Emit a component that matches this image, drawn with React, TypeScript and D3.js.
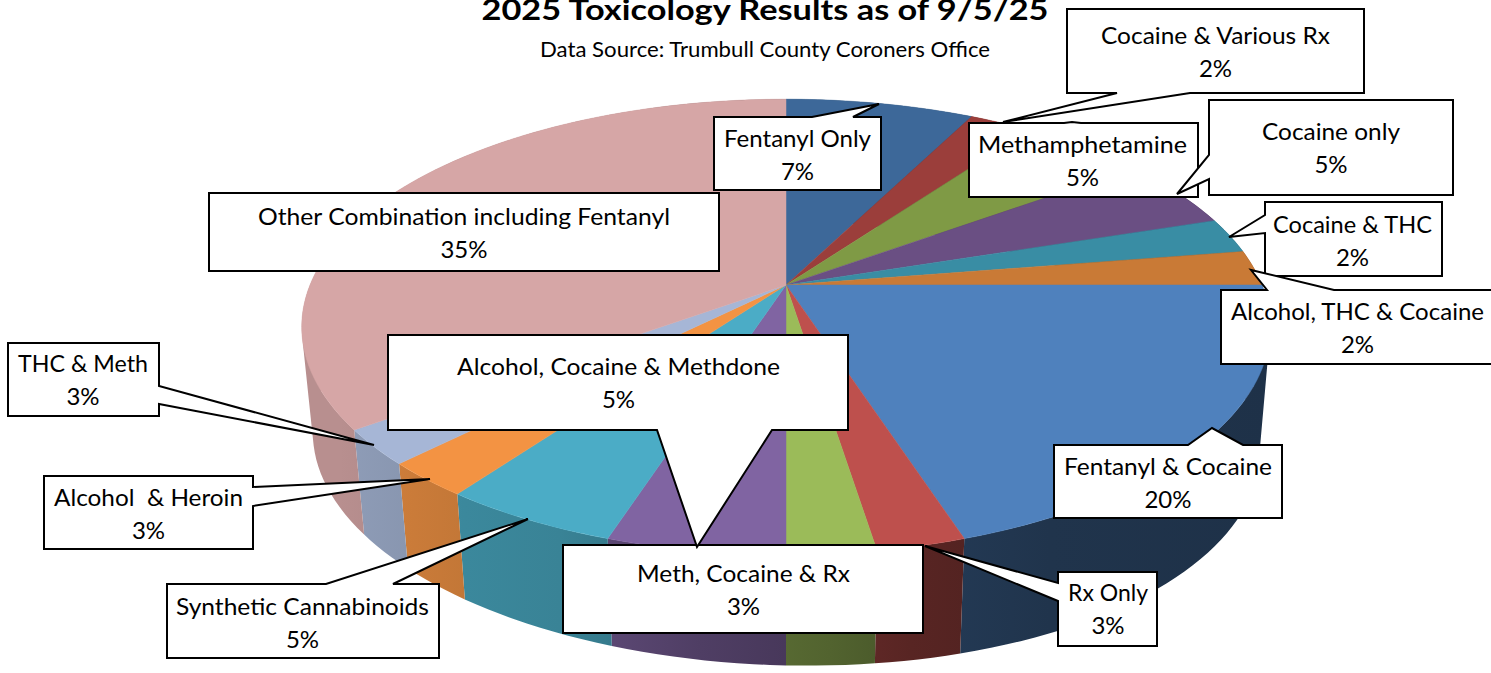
import React from "react";
import * as d3 from "d3";

// ---- data ----
const categories = [
  "Fentanyl Only", "Cocaine & Various Rx", "Methamphetamine", "Cocaine only", "Cocaine & THC",
  "Alcohol, THC & Cocaine", "Fentanyl & Cocaine", "Rx Only", "Meth, Cocaine & Rx",
  "Alcohol, Cocaine & Methdone", "Synthetic Cannabinoids", "Alcohol  & Heroin", "THC & Meth",
  "Other Combination including Fentanyl",
];
const caseCounts = [3, 1, 2, 2, 1, 1, 8, 1, 1, 2, 2, 1, 1, 14];
const percentLabels = ["7%", "2%", "5%", "5%", "2%", "2%", "20%", "3%", "3%", "5%", "5%", "3%", "3%", "35%"];
const topColors = [
  "#3D6899", "#9B3E3B", "#7F9A45", "#6A4F83", "#398DA4", "#C97A36",
  "#4F81BD", "#BE504D", "#9BBB59", "#8064A2", "#4BACC6", "#F39343", "#A6B6D6", "#D6A6A6",
];
const sideBaseColors = [
  "#4F81BD", "#C0504D", "#9BBB59", "#8064A2", "#4BACC6", "#F79646",
  "#4F81BD", "#C0504D", "#9BBB59", "#8064A2", "#4BACC6", "#F79646", "#A6B6D6", "#D6A6A6",
];
const title = "2025 Toxicology Results as of 9/5/25";
const subtitle = "Data Source: Trumbull County Coroners Office";

// ---- layout of callouts (not data) ----
type Pt = [number, number];
type Box = { x0: number; y0: number; x1: number; y1: number; edge: string; a?: number; tip?: Pt; b?: number; tx0: number; tx1: number; y: number };
const boxes: Box[] = [
  { x0: 714, y0: 117, x1: 881, y1: 190, edge: "top", a: 812, tip: [879, 104], b: 853, tx0: 724, tx1: 871, y: 147 },
  { x0: 1067, y0: 9, x1: 1364, y1: 93, edge: "bottom", a: 1190, tip: [1003, 122], b: 1117, tx0: 1101, tx1: 1330, y: 44 },
  { x0: 969, y0: 123, x1: 1198, y1: 197, edge: "top", a: 1064, tip: [1072, 122], b: 1081, tx0: 978, tx1: 1187, y: 153 },
  { x0: 1209, y0: 100, x1: 1453, y1: 195, edge: "left", a: 155, tip: [1177, 194], b: 179, tx0: 1262, tx1: 1400, y: 140 },
  { x0: 1265, y0: 202, x1: 1442, y1: 276, edge: "left", a: 215, tip: [1229, 237], b: 233, tx0: 1273, tx1: 1432, y: 233 },
  { x0: 1221, y0: 290, x1: 1495, y1: 364, edge: "top", a: 1267, tip: [1251, 270], b: 1334, tx0: 1231, tx1: 1484, y: 320 },
  { x0: 1054, y0: 445, x1: 1282, y1: 518, edge: "top", a: 1188, tip: [1212, 428], b: 1243, tx0: 1064, tx1: 1272, y: 475 },
  { x0: 1058, y0: 572, x1: 1157, y1: 646, edge: "left", a: 583, tip: [925, 546], b: 601, tx0: 1068, tx1: 1148, y: 601 },
  { x0: 563, y0: 545, x1: 923, y1: 633, edge: "none", tx0: 637, tx1: 850, y: 582 },
  { x0: 388, y0: 335, x1: 848, y1: 430, edge: "bottom", a: 772, tip: [697, 547], b: 657, tx0: 457, tx1: 780, y: 375 },
  { x0: 167, y0: 584, x1: 439, y1: 658, edge: "top", a: 326, tip: [528, 519], b: 393, tx0: 176, tx1: 429, y: 615 },
  { x0: 44, y0: 476, x1: 253, y1: 549, edge: "right", a: 487, tip: [430, 479], b: 506, tx0: 54, tx1: 243, y: 506 },
  { x0: 8, y0: 343, x1: 159, y1: 416, edge: "right", a: 386, tip: [374, 445], b: 404, tx0: 18, tx1: 148, y: 372 },
  { x0: 209, y0: 193, x1: 719, y1: 271, edge: "none", tx0: 258, tx1: 670, y: 225 },
];

// ---- 3D projection of the pie (a perspective view of a disc) ----
const CX = 786, APEX_Y = 285, RX = 476, RY = 220, K = 0.184;
const DEPTH = 117, LOWER_SCALE = 0.977, LOWER_SKEW = 10;
const project = (a: number, level: number): Pt => {
  const u = Math.sin(a), v = Math.cos(a), w = 1 + K * v;
  if (level === 0) return [CX + (RX * u) / w, APEX_Y - (RY * v) / w];
  return [
    CX + (LOWER_SCALE * RX * u) / w,
    APEX_Y + DEPTH + (LOWER_SKEW * u) / w - (LOWER_SCALE * RY * v) / w,
  ];
};

const gradientStops = [300, 340, 465, 560, 700, 830, 910, 1050, 1270];
const shade = d3.scaleLinear<number>()
  .domain(gradientStops)
  .range([0.86, 0.86, 0.79, 0.76, 0.62, 0.53, 0.46, 0.4, 0.38]);

const arcsData = d3.pie<number>().sort(null).startAngle(0).endAngle(2 * Math.PI)(caseCounts);
const line = d3.line<Pt>();

const sampleArc = (a0: number, a1: number, step: number): number[] => {
  const n = Math.max(4, Math.ceil((a1 - a0) / step));
  const t = d3.scaleLinear().domain([0, n]).range([a0, a1]);
  return d3.range(n + 1).map((i) => t(i));
};

// One path per slice: the wall is the union of small quads, all wound the same way.
const sidePath = (a0: number, a1: number): string => {
  const as = sampleArc(a0, a1, 0.03);
  return as.slice(1).map((a, j) => {
    const quad: Pt[] = [project(as[j], 0), project(a, 0), project(a, 1), project(as[j], 1)];
    if (d3.polygonArea(quad) < 0) quad.reverse();
    return line(quad)! + "Z";
  }).join("");
};

const calloutPath = (b: Box): string => {
  const pts: Pt[] = [];
  const { x0, y0, x1, y1 } = b;
  pts.push([x0, y0]);
  if (b.edge === "top") pts.push([b.a!, y0], b.tip!, [b.b!, y0]);
  pts.push([x1, y0]);
  if (b.edge === "right") pts.push([x1, b.a!], b.tip!, [x1, b.b!]);
  pts.push([x1, y1]);
  if (b.edge === "bottom") pts.push([b.a!, y1], b.tip!, [b.b!, y1]);
  pts.push([x0, y1]);
  if (b.edge === "left") pts.push([x0, b.b!], b.tip!, [x0, b.a!]);
  return line(pts)! + "Z";
};

const FONT = "Lato, 'Open Sans', sans-serif";

export default function App() {
  return (
    <svg width={1491} height={673} viewBox="0 0 1491 673"
      style={{ position: "absolute", left: 0, top: 0, background: "#fff" }} fontFamily={FONT}>
      <defs>
        {sideBaseColors.map((c, i) => (
          <linearGradient key={i} id={`side-${i}`} gradientUnits="userSpaceOnUse" x1={300} x2={1270} y1={0} y2={0}>
            {gradientStops.map((x) => {
              const col = d3.rgb(c);
              const f = shade(x);
              return (
                <stop key={x} offset={(x - 300) / 970}
                  stopColor={d3.rgb(col.r * f, col.g * f, col.b * f).formatHex()} />
              );
            })}
          </linearGradient>
        ))}
      </defs>

      {arcsData.map((d, i) => (
        <path key={i} d={sidePath(d.startAngle, d.endAngle)} fill={`url(#side-${i})`} fillRule="nonzero" />
      ))}
      {arcsData.map((d, i) => {
        const as = sampleArc(d.startAngle, d.endAngle, 0.01);
        const pts: Pt[] = [[CX, APEX_Y], ...as.map((a) => project(a, 0))];
        return <path key={i} d={line(pts)! + "Z"} fill={topColors[i]} stroke={topColors[i]} strokeWidth={0.5} />;
      })}

      <text x={765} y={19.5} textAnchor="middle" fontSize={28} fontWeight={700} fill="#000"
        textLength={567} lengthAdjust="spacingAndGlyphs">{title}</text>
      <text x={765} y={57} textAnchor="middle" fontSize={21} fill="#000"
        textLength={450} lengthAdjust="spacingAndGlyphs">{subtitle}</text>

      {boxes.map((b, i) => {
        const cx = (b.tx0 + b.tx1) / 2;
        return (
          <g key={i}>
            <path d={calloutPath(b)} fill="#fff" stroke="#000" strokeWidth={2} strokeLinejoin="miter" strokeMiterlimit={4} />
            <text x={cx} y={b.y} textAnchor="middle" fontSize={24} fill="#000" style={{ whiteSpace: "pre" }}
              textLength={b.tx1 - b.tx0} lengthAdjust="spacingAndGlyphs">{categories[i]}</text>
            <text x={cx} y={b.y + 33} textAnchor="middle" fontSize={24} fill="#000">{percentLabels[i]}</text>
          </g>
        );
      })}
    </svg>
  );
}
